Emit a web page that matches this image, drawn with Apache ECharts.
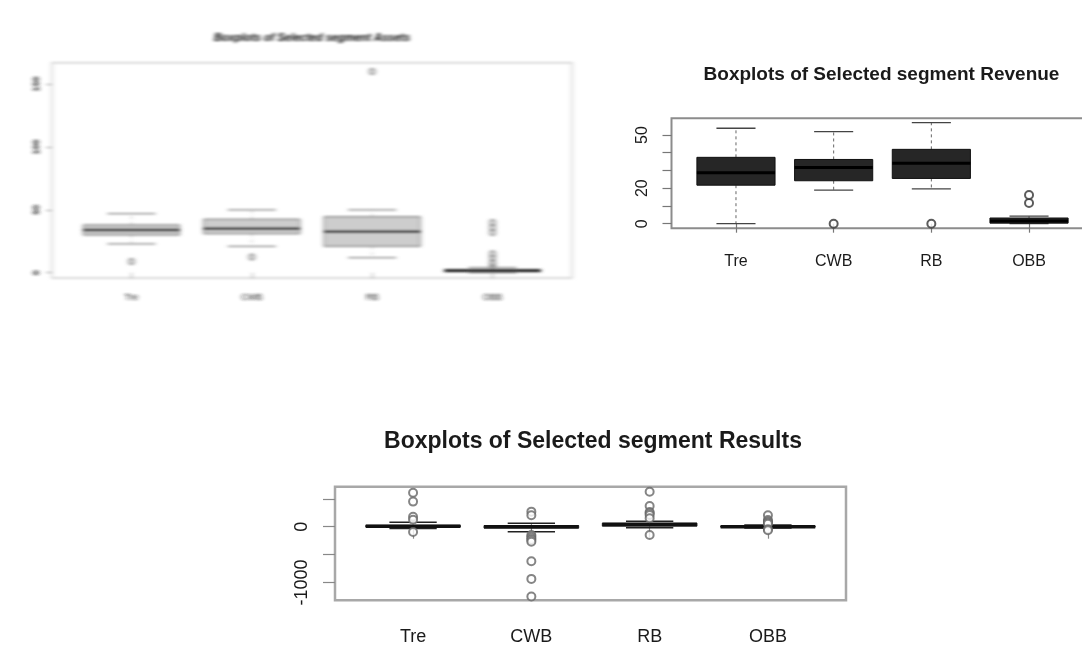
<!DOCTYPE html>
<html>
<head>
<meta charset="utf-8">
<title>Boxplots of Selected segment</title>
<script src="https://cdn.jsdelivr.net/npm/echarts@6/dist/echarts.min.js"></script>
<style>
    html, body { margin: 0; padding: 0; background: #fff; overflow: hidden; }
    body { width: 1082px; height: 647px; position: relative; }
    #main { position: absolute; left: 0; top: 0; width: 1100px; height: 647px; }
    #assets { position: absolute; left: 0; top: 0; width: 600px; height: 340px; filter: url(#smear); }
</style>
</head>
<body>
<svg width="0" height="0" style="position:absolute">
    <filter id="smear"><feGaussianBlur stdDeviation="2.2 0.8"></feGaussianBlur></filter>
</svg>
<div id="main"></div>
<div id="assets"></div>
<script>
const categories = ['Tre', 'CWB', 'RB', 'OBB'];
const positions = [1, 2, 3, 4];

// [lower whisker, Q1, median, Q3, upper whisker]
const assetsStats = [
    [23, 30, 34, 38, 47],
    [21, 31, 35, 42.5, 50],
    [12, 21, 32.5, 44.5, 50],
    [0, 0.8, 1.6, 2.5, 4]
];
const assetsOutliers = [[9], [12.5], [160], [6, 8, 12, 15, 32, 36, 40]];

const revenueStats = [
    [0, 21.7, 28.7, 37.4, 53.8],
    [18.9, 24.2, 31.7, 36.2, 51.9],
    [19.6, 25.5, 34, 41.9, 57],
    [0, 0.3, 1.5, 3.2, 4.3]
];
const revenueOutliers = [[], [0], [0], [11.7, 16.2]];

const resultsStats = [
    [-30, -5, 8, 25, 80],
    [-90, -25, 0, 20, 60],
    [-20, 10, 40, 65, 100],
    [-25, -8, 0, 10, 30]
];
const resultsOutliers = [
    [610, 450, 180, 125, -95],
    [270, 205, -150, -180, -210, -240, -270, -620, -935, -1250],
    [625, 370, 265, 240, 210, 150, -148],
    [205, 120, 95, 75, 55, -45, -65]
];

const assetsTicks = [0, 50, 100, 150];
const assetsLabels = [0, 50, 100, 150];
const revenueTicks = [0, 10, 20, 30, 40, 50];
const revenueLabels = [0, 20, 50];
const resultsTicks = [-1000, -500, 0, 500];
const resultsLabels = [-1000, 0];

const FONT = '"Liberation Sans", Arial, sans-serif';

// R style box: filled box, thick median, dashed whiskers, half width staples
function renderBox(look) {
    return function (params, api) {
        const x = api.value(0);
        const lo = api.coord([x, api.value(1)]);
        const q1 = api.coord([x, api.value(2)]);
        const md = api.coord([x, api.value(3)]);
        const q3 = api.coord([x, api.value(4)]);
        const hi = api.coord([x, api.value(5)]);
        const half = api.size([0.4, 0])[0];
        const cap = api.size([0.2, 0])[0];
        const cx = md[0];
        const whisker = { stroke: look.whisker, lineWidth: 1, lineDash: [3, 3] };
        const staple = { stroke: look.staple, lineWidth: look.stapleWidth };
        return {
            type: 'group',
            children: [
                { type: 'line', shape: { x1: cx, y1: q3[1], x2: cx, y2: hi[1] }, style: whisker },
                { type: 'line', shape: { x1: cx, y1: q1[1], x2: cx, y2: lo[1] }, style: whisker },
                { type: 'line', shape: { x1: cx - cap, y1: hi[1], x2: cx + cap, y2: hi[1] }, style: staple },
                { type: 'line', shape: { x1: cx - cap, y1: lo[1], x2: cx + cap, y2: lo[1] }, style: staple },
                {
                    type: 'rect',
                    shape: { x: cx - half, y: q3[1], width: half * 2, height: Math.max(q1[1] - q3[1], 1) },
                    style: { fill: look.fill, stroke: look.border, lineWidth: 1 }
                },
                {
                    type: 'line',
                    shape: { x1: cx - half, y1: md[1], x2: cx + half, y2: md[1] },
                    style: { stroke: look.median, lineWidth: look.medianWidth }
                }
            ]
        };
    };
}

function addPanel(opt, p) {
    const idx = opt.grid.length;
    opt.grid.push({
        left: p.rect[0], top: p.rect[1], width: p.rect[2], height: p.rect[3],
        show: true, borderColor: p.frame, borderWidth: p.frameWidth, backgroundColor: 'transparent'
    });
    opt.xAxis.push({
        type: 'value', gridIndex: idx, min: 0.34, max: 4.66,
        axisLine: { show: false },
        splitLine: { show: false },
        axisTick: { customValues: positions, length: p.tick, lineStyle: { color: p.tickColor, width: 1.2 } },
        axisLabel: {
            customValues: positions, margin: p.xMargin, color: p.textColor,
            fontFamily: FONT, fontSize: p.labelSize,
            formatter: v => categories[Math.round(v) - 1]
        }
    });
    opt.yAxis.push({
        type: 'value', gridIndex: idx, min: p.yMin, max: p.yMax,
        axisLine: { show: false },
        splitLine: { show: false },
        axisTick: { customValues: p.ticks, length: p.tick, lineStyle: { color: p.tickColor, width: 1.2 } },
        axisLabel: {
            customValues: p.labels, rotate: 90, margin: p.yMargin, color: p.textColor,
            fontFamily: FONT, fontSize: p.labelSize, fontWeight: p.yWeight || 'normal',
            formatter: v => String(v)
        }
    });
    opt.series.push({
        type: 'custom', xAxisIndex: idx, yAxisIndex: idx,
        renderItem: renderBox(p.look),
        encode: { x: 0, y: [1, 2, 3, 4, 5] },
        data: p.stats.map((s, i) => [positions[i]].concat(s))
    });
    const pts = [];
    p.outliers.forEach((list, i) => list.forEach(v => pts.push([positions[i], v])));
    opt.series.push({
        type: 'scatter', xAxisIndex: idx, yAxisIndex: idx,
        symbol: 'emptyCircle', symbolSize: p.dot,
        itemStyle: { color: p.dotColor, borderColor: p.dotColor, borderWidth: 1.1 },
        data: pts
    });
    opt.graphic.push({
        type: 'text', x: p.title[1], y: p.title[2],
        style: {
            text: p.title[0], font: p.titleFont, fill: p.titleColor || p.textColor,
            textAlign: 'center', textVerticalAlign: 'middle'
        }
    });
}

function emptyOption() {
    return { animation: false, grid: [], xAxis: [], yAxis: [], series: [], graphic: [] };
}

const mainOpt = emptyOption();
addPanel(mainOpt, {
    rect: [671.5, 118.3, 422, 110],
    yMin: -2.6, yMax: 59.4, ticks: revenueTicks, labels: revenueLabels,
    stats: revenueStats, outliers: revenueOutliers,
    frame: '#8c8c8c', frameWidth: 2, tick: 9, tickColor: '#777',
    labelSize: 16, xMargin: 25, yMargin: 21, textColor: '#1a1a1a',
    dot: 8, dotColor: '#333',
    look: { fill: '#262626', border: '#111', median: '#000', medianWidth: 3, whisker: '#666', staple: '#444', stapleWidth: 1.3 },
    title: ['Boxplots of Selected segment Revenue', 881.5, 75], titleFont: 'bold 19px ' + FONT
});
addPanel(mainOpt, {
    rect: [335, 486.7, 511, 113.5],
    yMin: -1317, yMax: 717, ticks: resultsTicks, labels: resultsLabels,
    stats: resultsStats, outliers: resultsOutliers,
    frame: '#a8a8a8', frameWidth: 2.5, tick: 12, tickColor: '#888',
    labelSize: 18, xMargin: 28, yMargin: 24, textColor: '#1a1a1a',
    dot: 8, dotColor: '#666',
    look: { fill: '#fff', border: '#222', median: '#111', medianWidth: 3.5, whisker: '#777', staple: '#222', stapleWidth: 1.5 },
    title: ['Boxplots of Selected segment Results', 593, 442], titleFont: 'bold 23px ' + FONT
});

const assetsOpt = emptyOption();
addPanel(assetsOpt, {
    rect: [52, 62.7, 520, 215.3],
    yMin: -4.2, yMax: 167, ticks: assetsTicks, labels: assetsLabels,
    stats: assetsStats, outliers: assetsOutliers,
    frame: '#cfcfcf', frameWidth: 1.5, tick: 6, tickColor: '#aaa',
    labelSize: 9, xMargin: 15, yMargin: 11, textColor: '#222', yWeight: 'bold',
    dot: 5, dotColor: '#777',
    look: { fill: '#cdcdcd', border: '#666', median: '#111', medianWidth: 2.5, whisker: '#bbb', staple: '#888', stapleWidth: 1.2 },
    title: ['Boxplots of Selected segment Assets', 312, 38], titleFont: 'italic bold 11px ' + FONT, titleColor: '#000'
});

echarts.init(document.getElementById('main')).setOption(mainOpt);
echarts.init(document.getElementById('assets')).setOption(assetsOpt);
</script>
</body>
</html>
